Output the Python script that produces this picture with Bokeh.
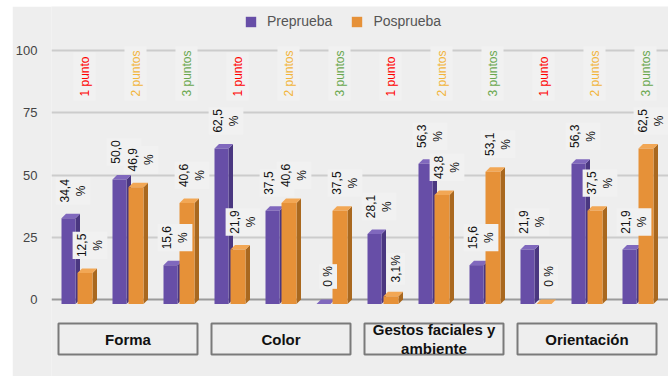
import math
from bokeh.plotting import figure
from bokeh.models import Range1d, FixedTicker, Span, Legend, LegendItem, ColumnDataSource, Spacer
from bokeh.layouts import column, row
from bokeh.embed import file_html
from bokeh.resources import INLINE
from bokeh.core.properties import value

# ---------------- data ----------------
categories = ["Forma", "Color", "Gestos faciales y\nambiente", "Orientación"]
levels = ["1 punto", "2 puntos", "3 puntos"]
level_colors = ["#ff0000", "#f2b53c", "#6aa84f"]
series = ["Preprueba", "Posprueba"]
pre = [34.4, 50.0, 15.6, 62.5, 37.5, 0.0, 28.1, 56.3, 15.6, 21.9, 56.3, 21.9]
post = [12.5, 46.9, 40.6, 21.9, 40.6, 37.5, 3.1, 43.8, 53.1, 0.0, 37.5, 62.5]
pre_labels = ["34,4\n%", "50,0\n%", "15,6\n%", "62,5\n%", "37,5\n%", "0 %",
              "28,1\n%", "56,3\n%", "15,6\n%", "21,9\n%", "56,3\n%", "21,9\n%"]
post_labels = ["12,5\n%", "46,9\n%", "40,6\n%", "21,9\n%", "40,6\n%", "37,5\n%",
               "3,1%", "43,8\n%", "53,1\n%", "0 %", "37,5\n%", "62,5\n%"]
y_ticks = [0, 25, 50, 75, 100]

# ---------------- style ----------------
BG = "#eeeeee"
FONT = "Liberation Sans"
PX_X = 51.0    # px per group
PX_Y = 2.49    # px per value unit
PURPLE = ("#674ea7", "#4a3780", "#8068bd")   # front, side, top
ORANGE = ("#e69138", "#a9681f", "#f2a755")
DX = 4.5 / PX_X
DY = 4.5 / PX_Y

n = len(pre)
groups = list(range(n))

p = figure(frame_width=618, frame_height=370,
           x_range=Range1d(-0.5, -0.5 + 618 / PX_X),
           y_range=Range1d(-77 / PX_Y, 293 / PX_Y),
           x_axis_location=None, toolbar_location=None, output_backend="svg",
           min_border_left=38, min_border_right=0, min_border_top=0, min_border_bottom=0,
           background_fill_color=BG, border_fill_color=BG, outline_line_color=None)

p.xgrid.grid_line_color = None
p.ygrid.ticker = FixedTicker(ticks=[t for t in y_ticks if t > 0])
p.ygrid.grid_line_color = "#cccccc"
p.ygrid.grid_line_width = 2

zero = Span(location=0, dimension="width", line_color="#9a9a9a", line_width=2, level="underlay")
p.add_layout(zero)

yax = p.yaxis[0]
yax.ticker = FixedTicker(ticks=y_ticks)
yax.axis_line_color = None
yax.major_tick_line_color = None
yax.minor_tick_line_color = None
yax.major_tick_out = 0
yax.major_tick_in = 0
yax.minor_tick_out = 0
yax.minor_tick_in = 0
yax.major_label_standoff = 14
yax.major_label_text_font = FONT
yax.major_label_text_font_size = "13px"
yax.major_label_text_color = "#444444"


def draw_series(vals, off_l, off_r, colors):
    L = [i + off_l / PX_X for i in groups]
    R = [i + off_r / PX_X for i in groups]
    side_xs = [[r, r + DX, r + DX, r] for r in R]
    side_ys = [[-DY, 0, v, v - DY] for v in vals]
    top_xs = [[l, l + DX, r + DX, r] for l, r in zip(L, R)]
    top_ys = [[v - DY, v, v, v - DY] for v in vals]
    p.patches(side_xs, side_ys, fill_color=colors[1], line_color=None)
    p.patches(top_xs, top_ys, fill_color=colors[2], line_color=None)
    front = p.quad(left=L, right=R, bottom=[-DY] * n, top=[v - DY for v in vals],
                   fill_color=colors[0], line_color=None)
    return front


r_pre = draw_series(pre, -15.5, -1.5, PURPLE)
r_post = draw_series(post, 0.5, 15.5, ORANGE)

# value labels
def draw_labels(vals, labels, xoff):
    src = ColumnDataSource(dict(x=[i + xoff / PX_X for i in groups], y=vals, t=labels))
    p.text(x="x", y="y", text="t", source=src, angle=math.pi / 2, y_offset=-23,
           text_align="center", text_baseline="middle",
           text_font=value(FONT), text_font_size="12px", text_color="#111111",
           text_line_height=1.2,
           background_fill_color="#f1f1f1", padding=2)

draw_labels(pre, pre_labels, -4)
draw_labels(post, post_labels, 13)

# level labels ("1 punto", ...)
lvl_src = ColumnDataSource(dict(
    x=[i + 7.5 / PX_X for i in groups],
    y=[199 / PX_Y] * n,
    t=[levels[i % 3] for i in groups],
    c=[level_colors[i % 3] for i in groups]))
p.text(x="x", y="y", text="t", text_color="c", source=lvl_src, angle=math.pi / 2,
       text_align="left", text_baseline="middle",
       text_font=value(FONT), text_font_size="12px",
       background_fill_color="#f1f1f1", padding=4)

# category boxes
centers = [3 * k + 1 for k in range(len(categories))]
half = 69.5 / PX_X
box_top = -24 / PX_Y
box_bot = -55 / PX_Y
p.quad(left=[c - half for c in centers], right=[c + half for c in centers],
       top=[box_top] * len(centers), bottom=[box_bot] * len(centers),
       fill_color=None, line_color="#7a7a7a", line_width=2)
p.text(x=centers, y=[(box_top + box_bot) / 2] * len(centers), text=categories,
       text_align="center", text_baseline="middle", text_font=value(FONT),
       text_font_size="15px", text_font_style="bold", text_color="#111111",
       text_line_height=1.1)

legend = Legend(items=[LegendItem(label=series[0], renderers=[r_pre]),
                       LegendItem(label=series[1], renderers=[r_post])],
                orientation="horizontal", location=(193, 347),
                glyph_width=13, glyph_height=13, label_height=13,
                label_standoff=10, spacing=18, padding=0, margin=0,
                label_text_font=FONT, label_text_font_size="14px",
                label_text_color="#555555",
                background_fill_alpha=0, border_line_color=None)
p.add_layout(legend)

layout = column(Spacer(height=6, width=668),
                row(Spacer(width=12, height=370), p, spacing=0), spacing=0)

open("out.html", "w").write(file_html(layout, INLINE))
